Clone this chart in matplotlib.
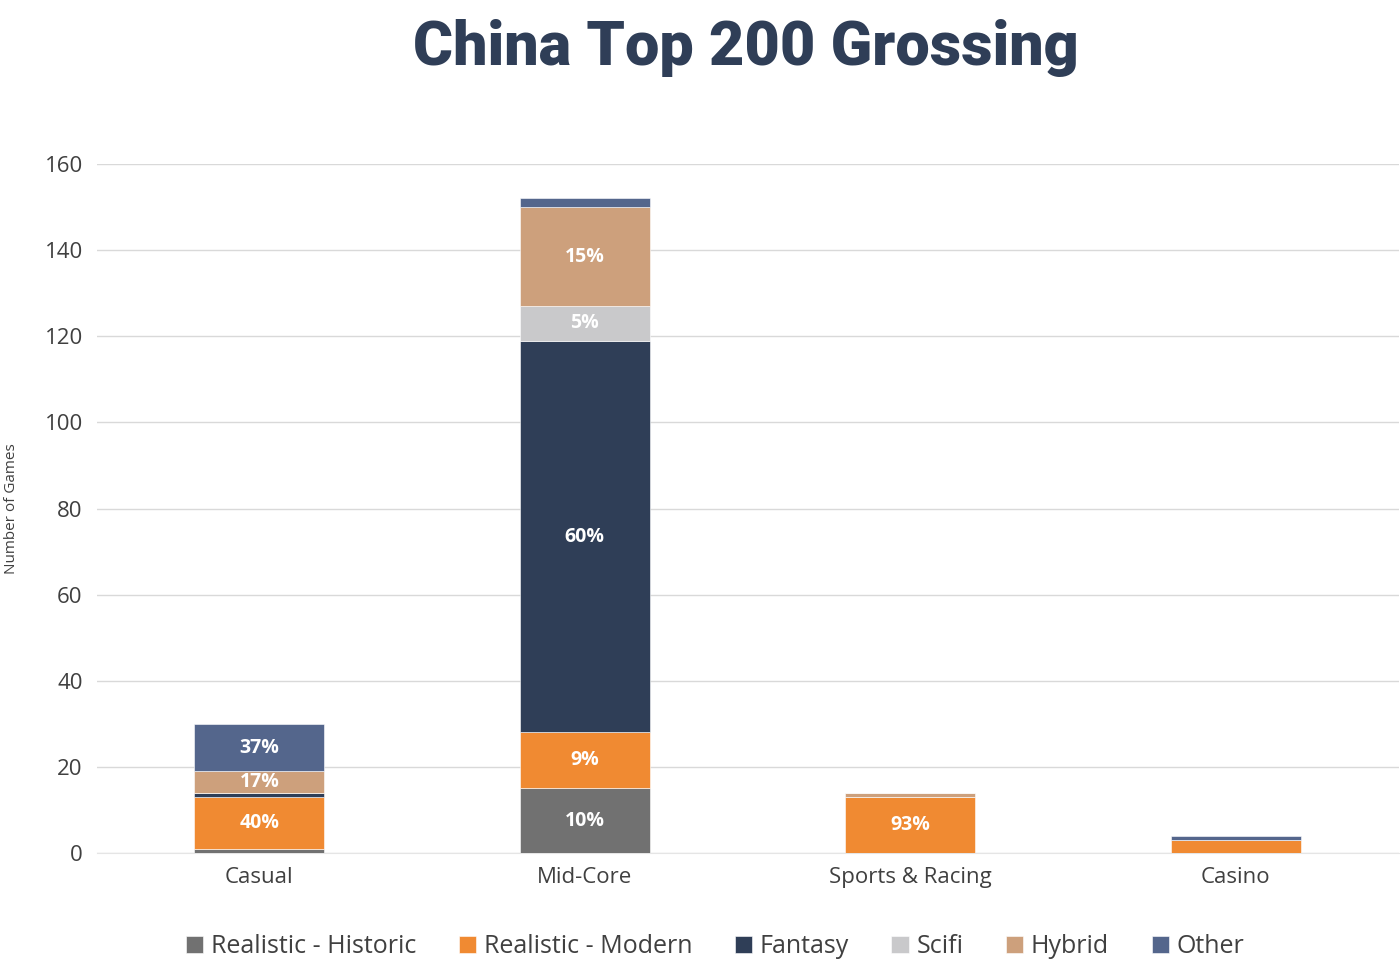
import matplotlib
matplotlib.use("Agg")
import matplotlib.pyplot as plt
import numpy as np

categories = ["Casual", "Mid-Core", "Sports & Racing", "Casino"]
series_names = ["Realistic - Historic", "Realistic - Modern", "Fantasy", "Scifi", "Hybrid", "Other"]
historic = [1, 15, 0, 0]
modern = [12, 13, 13, 3]
fantasy = [1, 91, 0, 0]
scifi = [0, 8, 0, 0]
hybrid = [5, 23, 1, 0]
other = [11, 2, 0, 1]
colors = ["#717171", "#F08A32", "#2F3E57", "#C9C9CB", "#CDA07C", "#54668C"]

series = [historic, modern, fantasy, scifi, hybrid, other]
totals = np.sum(series, axis=0)

plt.rcParams["font.family"] = ["Open Sans", "DejaVu Sans"]
fig, ax = plt.subplots(figsize=(14, 9.59), dpi=100)
fig.subplots_adjust(left=0.069, right=0.999, top=0.829, bottom=0.1105)

x = np.arange(len(categories))
bottom = np.zeros(len(categories))
for name, vals, col in zip(series_names, series, colors):
    vals = np.array(vals, dtype=float)
    ax.bar(x, vals, width=0.4, bottom=bottom, color=col, label=name,
           edgecolor="white", linewidth=0.4, zorder=3)
    for i, v in enumerate(vals):
        if v >= 5:
            ax.text(x[i], bottom[i] + v / 2, f"{v / totals[i] * 100:.0f}%",
                    ha="center", va="center", color="white",
                    fontsize=14, fontweight="bold", zorder=4)
    bottom += vals

ax.set_xlim(-0.5, 3.5)
ax.set_ylim(0, 160)
ax.set_yticks(range(0, 161, 20))
ax.set_xticks(x)
ax.set_xticklabels(categories)
ax.tick_params(axis="both", length=0, labelsize=16, colors="#404040")
ax.tick_params(axis="y", pad=10)
ax.tick_params(axis="x", pad=10)
ax.grid(axis="y", color="#D9D9D9", linewidth=1, zorder=0)
ax.set_axisbelow(True)
for s in ["top", "right", "left"]:
    ax.spines[s].set_visible(False)
ax.spines["bottom"].set_color("#E5E5E5")
ax.set_ylabel("Number of Games", fontsize=11, color="#404040", labelpad=18)

fig.text(0.533, 0.950, "China Top 200 Grossing", ha="center", va="center",
         fontsize=44, fontweight="heavy", color="#2F3E57",
         family=["Roboto", "DejaVu Sans"])

ax.legend(loc="upper center", bbox_to_anchor=(0.475, -0.085), ncol=6,
          frameon=False, fontsize=18, handlelength=0.7, handleheight=0.7,
          handletextpad=0.3, columnspacing=1.7, labelcolor="#404040")

fig.savefig("out.png")
